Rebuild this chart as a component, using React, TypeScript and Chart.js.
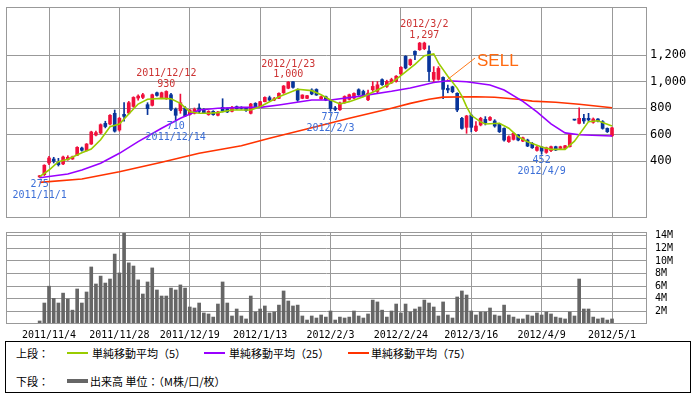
import React, { useEffect, useRef } from "react";
import { Chart, registerables } from "chart.js";

Chart.register(...registerables);

// ---- axis ticks (trading-day index -> date label) ----
const dateTickIndex = [2, 17, 32, 47, 62, 77, 92, 107, 122];
const dateTickLabels = [
  "2011/11/4", "2011/11/28", "2011/12/19", "2012/1/13", "2012/2/3",
  "2012/2/24", "2012/3/16", "2012/4/9", "2012/5/1",
];
const priceTicks = [400, 600, 800, 1000, 1200];
const volumeTicks = [2, 4, 6, 8, 10, 12, 14];

// ---- daily OHLC (2011/11/1 .. 2012/5/1, 123 trading days) ----
const opens = [
  280, 297, 385, 415, 390, 378, 410, 415, 443, 498, 478, 528, 596, 611, 684, 679, 760, 634, 752, 762,
  812, 875, 880, 825, 820, 915, 875, 870, 900, 790, 780, 800, 750, 760, 800, 790, 750, 775, 745, 805,
  795, 775, 810, 805, 797, 760, 835, 810, 848, 878, 860, 873, 915, 949, 998, 940, 873, 873, 936, 940,
  870, 885, 860, 800, 787, 840, 865, 875, 938, 925, 862, 938, 925, 1014, 963, 990, 1001, 1057, 1190, 1127,
  1228, 1240, 1248, 1230, 1016, 1016, 1031, 948, 960, 911, 722, 654, 747, 629, 672, 714, 709, 702, 679, 646,
  546, 563, 596, 550, 558, 533, 480, 505, 465, 478, 508, 495, 495, 508, 710, 684, 722, 722, 692, 717,
  697, 646, 590,
];
const highs = [
  292, 372, 435, 428, 420, 438, 440, 437, 508, 505, 532, 625, 625, 680, 700, 750, 785, 730, 840, 850,
  885, 900, 910, 840, 905, 920, 920, 930, 910, 800, 905, 810, 790, 800, 832, 795, 780, 780, 775, 870,
  800, 812, 815, 810, 800, 835, 840, 850, 885, 890, 880, 915, 970, 1000, 1000, 945, 900, 895, 945, 945,
  890, 890, 862, 812, 845, 892, 905, 915, 945, 935, 935, 1000, 1000, 1020, 1010, 1025, 1045, 1112, 1195, 1170,
  1232, 1295, 1297, 1270, 1112, 1112, 1035, 973, 965, 915, 730, 745, 748, 697, 730, 735, 735, 712, 685, 650,
  590, 615, 600, 580, 565, 540, 510, 510, 505, 512, 512, 512, 518, 605, 712, 802, 752, 760, 725, 720,
  705, 650, 655,
];
const lows = [
  275, 290, 372, 385, 362, 372, 405, 412, 440, 475, 475, 525, 590, 605, 650, 672, 618, 625, 700, 755,
  805, 860, 870, 750, 815, 890, 870, 865, 780, 710, 760, 735, 745, 755, 765, 760, 745, 745, 740, 770,
  765, 770, 790, 790, 775, 755, 800, 805, 845, 855, 855, 870, 910, 945, 950, 850, 870, 870, 900, 895,
  865, 855, 777, 780, 782, 835, 860, 870, 895, 885, 855, 925, 915, 970, 955, 985, 995, 1052, 1095, 1120,
  1165, 1235, 1240, 1000, 999, 1010, 870, 915, 915, 772, 640, 609, 620, 621, 665, 672, 705, 655, 615, 550,
  540, 558, 552, 545, 508, 495, 475, 452, 458, 470, 478, 490, 490, 505, 707, 680, 684, 697, 685, 695,
  640, 615, 585,
];
const closes = [
  289, 368, 423, 398, 372, 430, 428, 432, 503, 481, 528, 619, 614, 674, 660, 745, 625, 722, 737, 840,
  880, 890, 900, 795, 900, 895, 915, 925, 790, 745, 840, 740, 785, 790, 775, 765, 775, 750, 770, 778,
  770, 805, 795, 798, 782, 830, 805, 848, 880, 860, 870, 911, 966, 995, 956, 860, 898, 893, 906, 898,
  885, 860, 795, 790, 838, 887, 900, 910, 900, 890, 912, 963, 975, 976, 1000, 1015, 1040, 1107, 1102, 1165,
  1203, 1290, 1290, 1075, 1069, 1099, 941, 936, 923, 785, 646, 740, 654, 664, 722, 689, 729, 664, 621, 558,
  583, 609, 558, 575, 513, 500, 505, 475, 500, 508, 483, 508, 515, 600, 709, 722, 702, 710, 717, 702,
  646, 621, 650,
];

// ---- volume (M shares) ----
const volumes = [
  0.48, 3.33, 6.0, 4.07, 3.33, 4.9, 3.97, 2.2, 5.56, 3.33, 5.08, 9.05, 6.35, 7.6, 6.5, 7.14, 11.1, 8.1, 14.5, 9.7,
  9.2, 7.0, 4.76, 6.67, 8.9, 5.4, 4.44, 4.44, 5.7, 5.4, 6.2, 5.7, 2.7, 2.54, 3.33, 1.75, 1.59, 1.1, 3.17, 6.67,
  3.33, 1.27, 2.38, 1.27, 0.8, 4.44, 1.9, 2.38, 2.86, 1.75, 1.9, 3.0, 5.24, 3.65, 2.86, 3.0, 1.27, 0.63, 1.27, 0.95,
  1.43, 1.1, 2.06, 0.63, 1.1, 0.95, 1.1, 2.06, 1.27, 0.95, 1.59, 3.8, 3.5, 2.2, 1.1, 2.06, 3.17, 1.75, 3.17, 1.9,
  2.38, 2.7, 3.8, 3.33, 2.7, 1.27, 3.5, 1.43, 0.95, 4.29, 5.24, 4.6, 2.06, 1.43, 1.9, 1.9, 2.54, 1.43, 1.27, 3.0,
  1.43, 1.1, 0.8, 0.8, 1.43, 1.27, 1.75, 1.43, 1.9, 1.59, 1.1, 0.95, 0.8, 1.9, 1.27, 7.14, 2.38, 2.38, 1.1, 0.8,
  0.95, 0.63, 0.8,
];

// ---- moving averages (day index, value) ----
const sma5Days = [0, 2, 4, 6, 9, 11, 13, 15, 17, 19, 21, 23, 26, 28, 30, 32, 34, 36, 38, 41, 45, 47, 51, 55, 58, 60, 62, 64, 66, 69, 72, 75, 77, 80, 82, 84, 85, 87, 89, 90, 91, 92, 94, 95, 98, 100, 102, 104, 107, 109, 112, 114, 117, 119, 122];
const sma5Values = [282, 332, 395, 413, 462, 490, 560, 659, 679, 755, 830, 866, 873, 870, 835, 772, 760, 760, 765, 785, 785, 810, 885, 941, 931, 900, 860, 830, 848, 885, 936, 990, 1045, 1130, 1195, 1208, 1140, 1040, 950, 890, 810, 745, 695, 679, 685, 647, 583, 546, 505, 488, 488, 550, 697, 704, 664];
const sma25Days = [0, 6, 9, 13, 17, 21, 26, 30, 34, 38, 43, 47, 51, 58, 62, 68, 75, 79, 82, 84, 87, 91, 96, 99, 103, 106, 109, 112, 115, 122];
const sma25Values = [274, 302, 332, 383, 458, 546, 647, 722, 785, 798, 805, 805, 823, 860, 860, 888, 926, 951, 976, 992, 1006, 998, 974, 936, 850, 770, 680, 612, 598, 589];
const sma75Days = [0, 9, 17, 26, 34, 43, 49, 58, 66, 75, 79, 83, 86, 93, 97, 102, 105, 110, 115, 122];
const sma75Values = [239, 264, 319, 390, 458, 515, 571, 651, 722, 798, 835, 866, 882, 885, 881, 866, 852, 843, 828, 802];

// ---- highlighted highs / lows ----
const markerDays = [0, 27, 29, 53, 62, 82, 107];
const markerKinds = ["low", "high", "low", "high", "low", "high", "low"];
const markerDates = ["2011/11/1", "2011/12/12", "2011/12/14", "2012/1/23", "2012/2/3", "2012/3/2", "2012/4/9"];

// SELL signal: from the dead cross to the label
const sellFrom = [86.8, 1011];
const sellTo = [92.8, 1177];
const sellText = "SELL";

const GRID = "#999999";
const UP = "#f0103c";
const DOWN = "#07349a";
const HIGH_TXT = "#cc3333";
const LOW_TXT = "#3c6fd8";
const X_MIN = -7.17;
const X_MAX = 129.46;

const candleColors = closes.map((c, i) => (c >= opens[i] ? UP : DOWN));
const fmt = (v: number) => Number(v).toLocaleString("en-US");

const framePlugin = {
  id: "frame",
  afterDatasetsDraw(chart: any) {
    const { ctx, chartArea: a } = chart;
    ctx.save();
    ctx.strokeStyle = GRID;
    ctx.lineWidth = 1;
    const l = Math.round(a.left) + 0.5;
    const t = Math.round(a.top) + 0.5;
    const r = Math.round(a.right) - 0.5;
    const b = Math.round(a.bottom) - 0.5;
    ctx.strokeRect(l, t, r - l, b - t);
    ctx.restore();
  },
};

const markerPlugin = {
  id: "markers",
  afterDatasetsDraw(chart: any) {
    const { ctx } = chart;
    const xs = chart.scales.x;
    const ys = chart.scales.y;
    ctx.save();
    ctx.font = '10px "DejaVu Sans Mono"';
    ctx.textAlign = "center";
    ctx.textBaseline = "middle";
    markerDays.forEach((d, k) => {
      const isHigh = markerKinds[k] === "high";
      const v = isHigh ? highs[d] : lows[d];
      const x = xs.getPixelForValue(d);
      const y = ys.getPixelForValue(v);
      ctx.fillStyle = isHigh ? HIGH_TXT : LOW_TXT;
      const s = isHigh ? -1 : 1;
      ctx.fillText(fmt(v), x, y + s * 6.7);
      ctx.fillText(markerDates[k], x, y + s * 17.5);
    });
    // SELL
    const x1 = xs.getPixelForValue(sellFrom[0]);
    const y1 = ys.getPixelForValue(sellFrom[1]);
    const x2 = xs.getPixelForValue(sellTo[0]);
    const y2 = ys.getPixelForValue(sellTo[1]);
    ctx.strokeStyle = "#ff7a1a";
    ctx.lineWidth = 1;
    ctx.beginPath();
    ctx.moveTo(x1, y1);
    ctx.lineTo(x2, y2);
    ctx.stroke();
    ctx.fillStyle = "#ff6a10";
    ctx.font = '17px "Liberation Sans"';
    ctx.textAlign = "left";
    ctx.fillText(sellText, x2 + 2, y2 + 3.5);
    ctx.restore();
  },
};

const noPad = (s: any) => {
  s.paddingTop = 0;
  s.paddingBottom = 0;
  s.paddingLeft = 0;
  s.paddingRight = 0;
};

function App() {
  const mainRef = useRef<HTMLCanvasElement>(null);
  const volRef = useRef<HTMLCanvasElement>(null);

  useEffect(() => {
    const xTicks = (s: any) => {
      s.ticks = dateTickIndex.map((v) => ({ value: v }));
    };
    const main = new Chart(mainRef.current as HTMLCanvasElement, {
      type: "bar",
      data: {
        datasets: [
          {
            type: "line",
            label: "SMA5",
            data: sma5Days.map((d, i) => ({ x: d, y: sma5Values[i] })),
            borderColor: "#99cc00",
            borderWidth: 1.6,
            pointRadius: 0,
            tension: 0,
            order: 0,
          } as any,
          {
            type: "line",
            label: "SMA25",
            data: sma25Days.map((d, i) => ({ x: d, y: sma25Values[i] })),
            borderColor: "#9900ff",
            borderWidth: 1.6,
            pointRadius: 0,
            tension: 0,
            order: 0,
          },
          {
            type: "line",
            label: "SMA75",
            data: sma75Days.map((d, i) => ({ x: d, y: sma75Values[i] })),
            borderColor: "#ff3300",
            borderWidth: 1.6,
            pointRadius: 0,
            tension: 0,
            order: 0,
          },
          {
            type: "bar",
            label: "body",
            data: opens.map((o, i) => ({ x: i, y: [Math.min(o, closes[i]), Math.max(o, closes[i])] })),
            backgroundColor: candleColors,
            barThickness: 3,
            grouped: false,
            minBarLength: 1,
            order: 1,
          },
          {
            type: "bar",
            label: "wick",
            data: highs.map((h, i) => ({ x: i, y: [lows[i], h] })),
            backgroundColor: candleColors,
            barThickness: 1,
            grouped: false,
            order: 2,
          },
        ] as any,
      },
      options: {
        animation: false,
        responsive: false,
        devicePixelRatio: 1,
        layout: { padding: { left: 6, top: 7, bottom: 7, right: 0 } },
        plugins: { legend: { display: false }, tooltip: { enabled: false } },
        scales: {
          x: {
            type: "linear",
            min: X_MIN,
            max: X_MAX,
            offset: false,
            afterBuildTicks: xTicks,
            afterFit: (s: any) => {
              noPad(s);
              s.height = 0;
            },
            ticks: { display: false },
            grid: { color: GRID, drawTicks: false, offset: false },
            border: { display: false },
          },
          y: {
            position: "right",
            min: -30.2,
            max: 1562.3,
            afterBuildTicks: (s: any) => {
              s.ticks = priceTicks.map((v) => ({ value: v }));
            },
            afterFit: (s: any) => {
              noPad(s);
              s.width = 49;
            },
            ticks: {
              padding: 3,
              autoSkip: false,
              color: "#000",
              font: { family: "DejaVu Sans Mono", size: 12 },
              callback: (v: any) => fmt(v),
            },
            grid: { color: GRID, drawTicks: false },
            border: { display: false },
          },
        },
      } as any,
      plugins: [framePlugin, markerPlugin],
    });

    const vol = new Chart(volRef.current as HTMLCanvasElement, {
      type: "bar",
      data: {
        datasets: [
          {
            label: "volume",
            data: volumes.map((v, i) => ({ x: i, y: v })),
            backgroundColor: "#666666",
            barThickness: 3,
          },
        ],
      },
      options: {
        animation: false,
        responsive: false,
        devicePixelRatio: 1,
        layout: { padding: { left: 6, top: 7, bottom: 0, right: 0 } },
        plugins: { legend: { display: false }, tooltip: { enabled: false } },
        scales: {
          x: {
            type: "linear",
            min: X_MIN,
            max: X_MAX,
            offset: false,
            afterBuildTicks: xTicks,
            afterFit: (s: any) => {
              noPad(s);
              s.height = 17;
            },
            ticks: {
              padding: 5,
              color: "#000",
              maxRotation: 0,
              minRotation: 0,
              autoSkip: false,
              font: { family: "DejaVu Sans Mono", size: 10 },
              callback: (v: any) => {
                const k = dateTickIndex.indexOf(Number(v));
                return k >= 0 ? dateTickLabels[k] : "";
              },
            },
            grid: { color: GRID, drawTicks: false, offset: false },
            border: { display: false },
          },
          y: {
            position: "right",
            min: 0,
            max: 14.6,
            afterBuildTicks: (s: any) => {
              s.ticks = volumeTicks.map((v) => ({ value: v }));
            },
            afterFit: (s: any) => {
              noPad(s);
              s.width = 49;
            },
            ticks: {
              padding: 8,
              autoSkip: false,
              color: "#000",
              font: { family: "DejaVu Sans Mono", size: 10 },
              callback: (v: any) => `${v}M`,
            },
            grid: { color: GRID, drawTicks: false },
            border: { display: false },
          },
        },
      } as any,
      plugins: [framePlugin],
    });

    return () => {
      main.destroy();
      vol.destroy();
    };
  }, []);

  const legendFont = '"Noto Sans CJK JP", sans-serif';
  const txt = (left: number, top: number, s: string) => (
    <span style={{ position: "absolute", left, top, lineHeight: "14px", whiteSpace: "nowrap" }}>{s}</span>
  );
  const swatch = (left: number, top: number, width: number, height: number, color: string) => (
    <span style={{ position: "absolute", left, top, width, height, background: color }} />
  );

  return (
    <div style={{ position: "absolute", left: 0, top: 0, width: 696, height: 395, background: "#fff", overflow: "hidden" }}>
      <canvas ref={mainRef} width={696} height={225} style={{ position: "absolute", left: 0, top: 0, width: 696, height: 225 }} />
      <canvas ref={volRef} width={696} height={116} style={{ position: "absolute", left: 0, top: 225, width: 696, height: 116 }} />
      <div
        style={{
          position: "absolute",
          left: 5,
          top: 341,
          width: 686,
          height: 52,
          border: "1px solid #000",
          boxSizing: "border-box",
          fontFamily: legendFont,
          fontSize: 11,
          color: "#000",
        }}
      >
        {txt(10, 4, "上段：")}
        {swatch(61, 10, 21, 1.5, "#99cc00")}
        {txt(86, 4, "単純移動平均（5）")}
        {swatch(198, 10, 21, 1.5, "#9900ff")}
        {txt(223, 4, "単純移動平均（25）")}
        {swatch(342, 10, 21, 1.5, "#ff3300")}
        {txt(365, 4, "単純移動平均（75）")}
        {txt(10, 32, "下段：")}
        {swatch(61, 37, 21, 4, "#666666")}
        {txt(84, 32, "出来高 単位：（M株/口/枚）")}
      </div>
    </div>
  );
}

export default App;
